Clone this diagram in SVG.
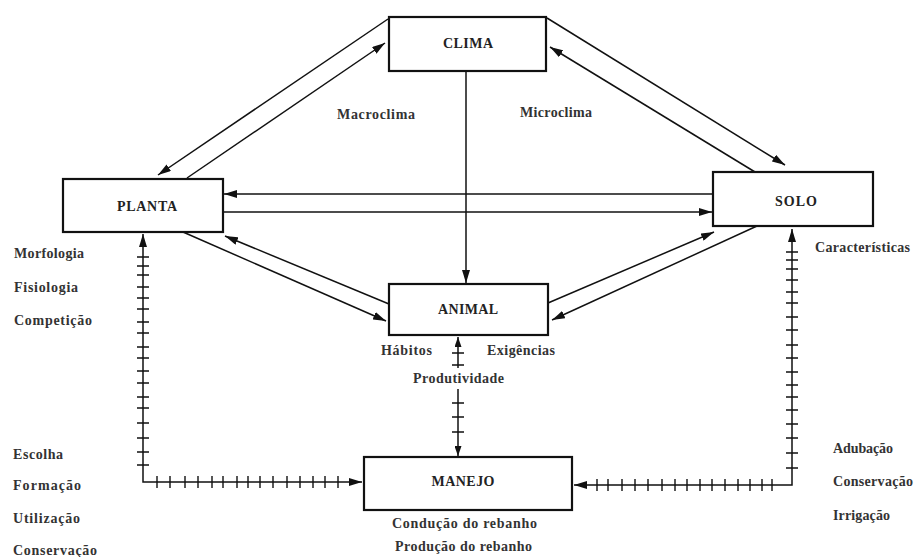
<svg xmlns="http://www.w3.org/2000/svg" width="914" height="557" viewBox="0 0 914 557">
<style>
.box{fill:#fff;stroke:#111;stroke-width:2.2}
.lbl{font-family:"Liberation Serif","Times New Roman",serif;font-size:14px;font-weight:bold;fill:#222;text-anchor:middle}
.t{font-family:"Liberation Serif","Times New Roman",serif;font-size:14px;font-weight:bold;fill:#333}
.c{fill:none;stroke:#111;stroke-width:1.5}
.tk{fill:none;stroke:#111;stroke-width:1.4}
</style>
<defs>
<marker id="ah" viewBox="0 0 13 8" refX="13" refY="4" markerWidth="13" markerHeight="8" markerUnits="userSpaceOnUse" orient="auto-start-reverse"><path d="M0,0 L13,4 L0,8 Z" fill="#111"/></marker>
<marker id="ahs" viewBox="0 0 10 7" refX="10" refY="3.5" markerWidth="10" markerHeight="7" markerUnits="userSpaceOnUse" orient="auto-start-reverse"><path d="M0,0 L10,3.5 L0,7 Z" fill="#111"/></marker>
</defs>
<rect width="914" height="557" fill="#fff"/>
<g id="connectors">
<path class="c" d="M388,19 L158,175" marker-end="url(#ah)"/>
<path class="c" d="M187,178 L385,43" marker-end="url(#ah)"/>
<path class="c" d="M547,18 L785,165" marker-end="url(#ah)"/>
<path class="c" d="M755,172 L550,47" marker-end="url(#ah)"/>
<path class="c" d="M713,194 L224,194" marker-end="url(#ah)"/>
<path class="c" d="M223,212 L712,212" marker-end="url(#ah)"/>
<path class="c" d="M183,232 L386,321" marker-end="url(#ah)"/>
<path class="c" d="M389,304 L225,236" marker-end="url(#ah)"/>
<path class="c" d="M548,303 L714,232" marker-end="url(#ah)"/>
<path class="c" d="M757,226 L552,320" marker-end="url(#ah)"/>
<path class="c" d="M466,71 L466,283" marker-end="url(#ah)"/>
<path class="c" d="M143,234 V482 H362" marker-start="url(#ah)" marker-end="url(#ah)"/>
<path class="tk" d="M137,257h12M137,266h12M137,275h12M137,287h12M137,298h12M137,309h12M137,322h12M137,333h12M137,347h12M137,358h12M137,371h12M137,383h12M137,397h12M137,408h12M137,423h12M137,438h12M137,452h12M137,465h12M157,476v12M170,476v12M185,476v12M198,476v12M212,476v12M223,476v12M237,476v12M248,476v12M260,476v12M273,476v12M287,476v12M300,476v12M313,476v12M325,476v12M338,476v12"/>
<path class="c" d="M792,229 V485 H574" marker-start="url(#ah)" marker-end="url(#ah)"/>
<path class="tk" d="M786,252h12M786,260h12M786,269h12M786,280h12M786,292h12M786,303h12M786,317h12M786,330h12M786,345h12M786,358h12M786,372h12M786,385h12M786,397h12M786,410h12M786,424h12M786,438h12M786,453h12M786,468h12M597,479v12M608,479v12M622,479v12M635,479v12M648,479v12M662,479v12M675,479v12M687,479v12M700,479v12M712,479v12M725,479v12M738,479v12M750,479v12M762,479v12M772,479v12"/>
<path class="c" d="M458,337 V368" marker-start="url(#ahs)"/>
<path class="c" d="M458,389 V456" marker-end="url(#ahs)"/>
<path class="tk" d="M452,353h12M452,365h12M452,403h12M452,417h12M452,432h12"/>
</g>
<g id="clima"><rect class="box" x="389" y="17" width="157" height="54"/><text class="lbl" x="468" y="48" textLength="50" lengthAdjust="spacing">CLIMA</text></g>
<g id="planta"><rect class="box" x="63" y="179" width="160" height="53"/><text class="lbl" x="147" y="211" textLength="60" lengthAdjust="spacing">PLANTA</text></g>
<g id="solo"><rect class="box" x="713" y="172" width="160" height="54"/><text class="lbl" x="796" y="206" textLength="42" lengthAdjust="spacing">SOLO</text></g>
<g id="animal"><rect class="box" x="389" y="284" width="159" height="51"/><text class="lbl" x="468" y="314" textLength="60" lengthAdjust="spacing">ANIMAL</text></g>
<g id="manejo"><rect class="box" x="364" y="457" width="208" height="53"/><text class="lbl" x="463" y="486" textLength="63" lengthAdjust="spacing">MANEJO</text></g>
<g id="labels">
<text class="t" x="337" y="119" textLength="78" lengthAdjust="spacing">Macroclima</text>
<text class="t" x="520" y="117" textLength="72" lengthAdjust="spacing">Microclima</text>
<text class="t" x="14" y="258" textLength="70" lengthAdjust="spacing">Morfologia</text>
<text class="t" x="14" y="292" textLength="64" lengthAdjust="spacing">Fisiologia</text>
<text class="t" x="14" y="325" textLength="78" lengthAdjust="spacing">Competição</text>
<text class="t" x="815" y="252" textLength="95" lengthAdjust="spacing">Características</text>
<text class="t" x="381" y="355" textLength="51" lengthAdjust="spacing">Hábitos</text>
<text class="t" x="487" y="355" textLength="68" lengthAdjust="spacing">Exigências</text>
<text class="t" x="413" y="383" textLength="91" lengthAdjust="spacing">Produtividade</text>
<text class="t" x="13" y="459" textLength="50" lengthAdjust="spacing">Escolha</text>
<text class="t" x="13" y="490" textLength="68" lengthAdjust="spacing">Formação</text>
<text class="t" x="13" y="523" textLength="67" lengthAdjust="spacing">Utilização</text>
<text class="t" x="13" y="555" textLength="84" lengthAdjust="spacing">Conservação</text>
<text class="t" x="833" y="453" textLength="60" lengthAdjust="spacing">Adubação</text>
<text class="t" x="833" y="486" textLength="80" lengthAdjust="spacing">Conservação</text>
<text class="t" x="833" y="520" textLength="57" lengthAdjust="spacing">Irrigação</text>
<text class="t" x="392" y="528" textLength="145" lengthAdjust="spacing">Condução do rebanho</text>
<text class="t" x="395" y="551" textLength="137" lengthAdjust="spacing">Produção do rebanho</text>
</g>
</svg>
